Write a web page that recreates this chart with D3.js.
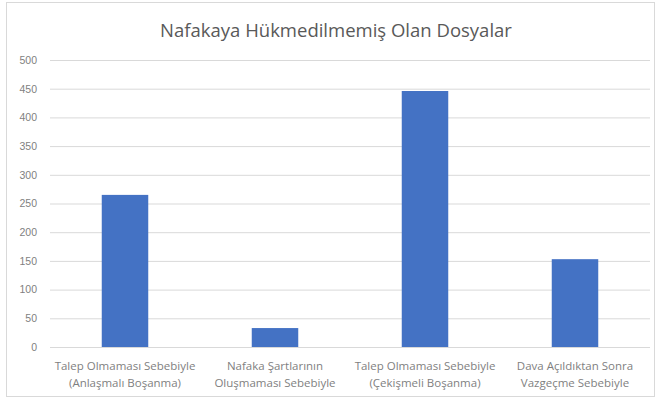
<!DOCTYPE html>
<html>
<head>
<meta charset="utf-8">
<script src="https://cdn.jsdelivr.net/npm/d3@7"></script>
<style>
  body { margin: 0; background: #fff; }
  svg { font-family: "Open Sans", "Noto Sans", sans-serif; }
</style>
</head>
<body>
<script>
// chart data
var title = 'Nafakaya Hükmedilmemiş Olan Dosyalar';
var categories = [
  ['Talep Olmaması Sebebiyle', '(Anlaşmalı Boşanma)'],
  ['Nafaka Şartlarının', 'Oluşmaması Sebebiyle'],
  ['Talep Olmaması Sebebiyle', '(Çekişmeli Boşanma)'],
  ['Dava Açıldıktan Sonra', 'Vazgeçme Sebebiyle']
];
var values = [265, 33, 446, 153];
var yTicks = [0, 50, 100, 150, 200, 250, 300, 350, 400, 450, 500];

var width = 658;
var height = 402;
var plot = { left: 50, right: 650, top: 60, bottom: 347 };

var svg = d3.select('body')
  .append('svg')
  .attr('width', width)
  .attr('height', height);

// chart frame
svg.append('rect')
  .attr('x', 6.5)
  .attr('y', 2.5)
  .attr('width', 648)
  .attr('height', 394)
  .attr('fill', '#fff')
  .attr('stroke', '#d9d9d9');

var x = d3.scaleBand()
  .domain(d3.range(categories.length))
  .range([plot.left, plot.right])
  .paddingInner(0.69)
  .paddingOuter(0.345);

var y = d3.scaleLinear()
  .domain([0, 500])
  .range([plot.bottom, plot.top]);

// gridlines + y labels
var yAxis = svg.append('g')
  .attr('transform', 'translate(' + plot.left + ',0)')
  .call(d3.axisLeft(y).tickValues(yTicks).tickSize(-(plot.right - plot.left)).tickPadding(13));
yAxis.select('.domain').remove();
yAxis.selectAll('line').attr('stroke', '#d9d9d9');
yAxis.selectAll('text')
  .attr('fill', '#7f7f7f')
  .attr('font-size', '10.5px');

// bars
svg.selectAll('rect.bar')
  .data(values)
  .enter()
  .append('rect')
  .attr('class', 'bar')
  .attr('x', function(d, i) { return x(i); })
  .attr('y', function(d) { return y(d); })
  .attr('width', x.bandwidth())
  .attr('height', function(d) { return y(0) - y(d); })
  .attr('fill', '#4472c4');

// category labels
var labels = svg.selectAll('text.cat')
  .data(categories)
  .enter()
  .append('text')
  .attr('class', 'cat')
  .attr('text-anchor', 'middle')
  .attr('fill', '#7f7f7f')
  .attr('font-size', '11.5px');
labels.selectAll('tspan')
  .data(function(d, i) { return d.map(function(t) { return { t: t, i: i }; }); })
  .enter()
  .append('tspan')
  .attr('x', function(d) { return x(d.i) + x.bandwidth() / 2; })
  .attr('y', function(d, j) { return 370 + j * 17; })
  .text(function(d) { return d.t; });

// title
svg.append('text')
  .attr('x', 336)
  .attr('y', 37)
  .attr('text-anchor', 'middle')
  .attr('fill', '#595959')
  .attr('font-size', '18.5px')
  .text(title);
</script>
</body>
</html>
